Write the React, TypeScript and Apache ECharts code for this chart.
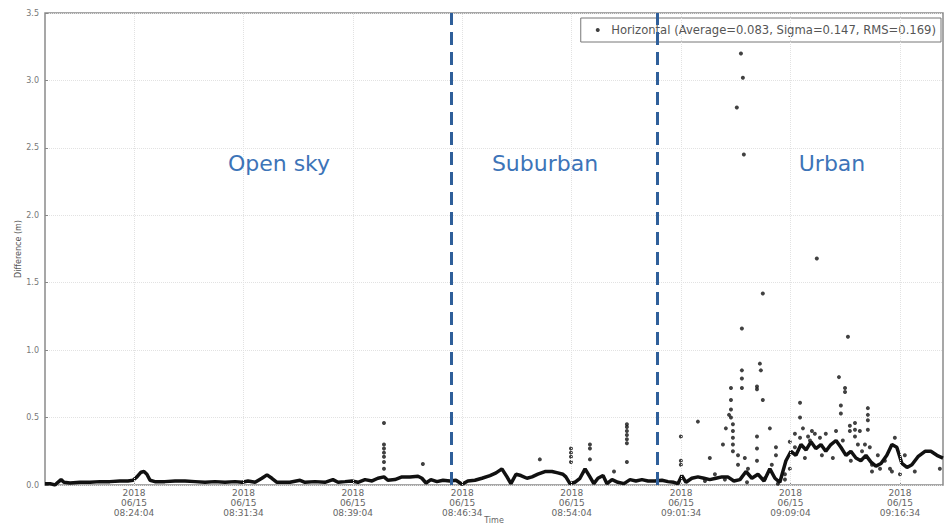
import React, { useEffect, useRef } from "react";
import * as echarts from "echarts";

// Elapsed seconds since 08:17:58 on 2018-06-15
const START_H = 8, START_M = 17, START_S = 58;
const TICK_SECONDS = [366, 816, 1266, 1716, 2166, 2616, 3066, 3516];
const X_MAX = 3693;
const Y_TICKS_MAX = 3.5;

// Continuous horizontal-difference trace
const baseSec = [0, 21, 41, 53, 66, 78, 103, 144, 185, 226, 267, 308, 341, 362, 378, 395, 407, 419, 432, 452, 493, 535, 576, 617, 658, 699, 740, 781, 810, 835, 864, 892, 913, 933, 954, 1007, 1049, 1069, 1110, 1151, 1184, 1205, 1234, 1262, 1287, 1316, 1345, 1369, 1394, 1410, 1439, 1468, 1501, 1534, 1550, 1567, 1587, 1612, 1637, 1665, 1690, 1715, 1739, 1768, 1797, 1830, 1855, 1879, 1900, 1916, 1937, 1957, 1982, 2003, 2027, 2056, 2085, 2109, 2130, 2142, 2159, 2179, 2200, 2221, 2241, 2257, 2274, 2295, 2311, 2332, 2356, 2381, 2406, 2430, 2455, 2480, 2508, 2537, 2562, 2586, 2603, 2619, 2636, 2660, 2685, 2710, 2734, 2759, 2784, 2808, 2833, 2858, 2883, 2907, 2932, 2957, 2981, 3002, 3022, 3047, 3068, 3088, 3109, 3130, 3150, 3170, 3191, 3211, 3232, 3253, 3273, 3294, 3314, 3335, 3355, 3376, 3397, 3417, 3438, 3462, 3483, 3503, 3524, 3545, 3565, 3590, 3619, 3643, 3668, 3693];
const baseVal = [0.01, 0.01, 0.0, 0.02, 0.04, 0.02, 0.015, 0.02, 0.02, 0.025, 0.025, 0.03, 0.03, 0.035, 0.06, 0.095, 0.1, 0.08, 0.035, 0.025, 0.025, 0.03, 0.03, 0.025, 0.02, 0.025, 0.02, 0.025, 0.02, 0.03, 0.02, 0.05, 0.075, 0.05, 0.02, 0.02, 0.035, 0.02, 0.025, 0.02, 0.04, 0.02, 0.025, 0.03, 0.02, 0.04, 0.03, 0.05, 0.06, 0.035, 0.04, 0.06, 0.06, 0.065, 0.05, 0.015, 0.04, 0.025, 0.035, 0.03, 0.035, 0.005, 0.03, 0.035, 0.05, 0.07, 0.09, 0.12, 0.06, 0.01, 0.08, 0.07, 0.05, 0.06, 0.08, 0.1, 0.1, 0.09, 0.08, 0.06, 0.01, 0.02, 0.05, 0.12, 0.06, 0.01, 0.05, 0.07, 0.01, 0.04, 0.02, 0.01, 0.04, 0.03, 0.04, 0.03, 0.03, 0.035, 0.025, 0.02, 0.01, 0.07, 0.02, 0.05, 0.06, 0.05, 0.04, 0.05, 0.06, 0.06, 0.03, 0.04, 0.1, 0.05, 0.08, 0.03, 0.12, 0.05, 0.02, 0.18, 0.25, 0.22, 0.3, 0.26, 0.32, 0.27, 0.3, 0.25, 0.3, 0.33, 0.28, 0.22, 0.25, 0.2, 0.18, 0.22, 0.17, 0.14, 0.16, 0.22, 0.3, 0.28, 0.16, 0.13, 0.15, 0.21, 0.25, 0.25, 0.22, 0.2];

// Scattered epochs away from the trace
const outSec = [1394, 1394, 1394, 1394, 1394, 1394, 1394, 1554, 2035, 2163, 2163, 2163, 2163, 2241, 2241, 2241, 2340, 2393, 2393, 2393, 2393, 2393, 2393, 2393, 2615, 2615, 2615, 2685, 2734, 2788, 2800, 2813, 2821, 2821, 2821, 2821, 2829, 2829, 2829, 2829, 2829, 2845, 2850, 2850, 2862, 2866, 2866, 2866, 2866, 2870, 2874, 2878, 2891, 2928, 2928, 2928, 2928, 2928, 2940, 2944, 2952, 2952, 2981, 3006, 3006, 3043, 3043, 3063, 3063, 3084, 3105, 3105, 3117, 3138, 3154, 3174, 3187, 3265, 3273, 3273, 3290, 3290, 3302, 3310, 3310, 3331, 3331, 3331, 3343, 3360, 3384, 3384, 3384, 3384, 3401, 3401, 3434, 3483, 3516, 3680, 3084, 3105, 3125, 3146, 3166, 3195, 3211, 3240, 3253, 3281, 3314, 3351, 3372, 3392, 3425, 3454, 3475, 3495, 3536, 3577, 2714, 2755, 2796, 2887, 2961, 2989, 3014];
const outVal = [0.46, 0.3, 0.27, 0.24, 0.21, 0.17, 0.12, 0.155, 0.19, 0.27, 0.24, 0.21, 0.17, 0.3, 0.27, 0.19, 0.1, 0.45, 0.43, 0.4, 0.37, 0.34, 0.31, 0.17, 0.36, 0.18, 0.15, 0.47, 0.2, 0.3, 0.42, 0.52, 0.72, 0.63, 0.56, 0.5, 0.45, 0.4, 0.35, 0.3, 0.25, 2.8, 0.22, 0.15, 3.2, 1.16, 0.85, 0.79, 0.72, 3.02, 2.45, 0.2, 0.12, 0.73, 0.71, 0.36, 0.27, 0.18, 0.9, 0.85, 0.63, 1.42, 0.42, 0.28, 0.22, 0.08, 0.04, 0.32, 0.12, 0.38, 0.5, 0.61, 0.42, 0.36, 0.4, 1.68, 0.35, 0.8, 0.59, 0.53, 0.72, 0.69, 1.1, 0.44, 0.4, 0.46, 0.41, 0.36, 0.3, 0.25, 0.57, 0.52, 0.48, 0.41, 0.15, 0.1, 0.12, 0.1, 0.08, 0.12, 0.28, 0.35, 0.2, 0.33, 0.38, 0.22, 0.38, 0.2, 0.4, 0.33, 0.18, 0.4, 0.3, 0.28, 0.22, 0.18, 0.12, 0.35, 0.22, 0.1, 0.03, 0.08, 0.04, 0.02, 0.05, 0.15, 0.01];

// Environment boundaries and labels
const boundarySec = [1670, 2517];
const regionNames = ["Open sky", "Suburban", "Urban"];
const legendName = "Horizontal (Average=0.083, Sigma=0.147, RMS=0.169)";

const pad = (n: number) => (n < 10 ? "0" + n : "" + n);
function timeLabel(sec: number) {
  const total = START_H * 3600 + START_M * 60 + START_S + Math.round(sec);
  const h = Math.floor(total / 3600);
  const m = Math.floor((total % 3600) / 60);
  const s = total % 60;
  return "2018\n06/15\n" + pad(h) + ":" + pad(m) + ":" + pad(s);
}

const FONT = "DejaVu Sans";
const regionPos = [[279, 163], [545, 163], [832, 163]];

export default function App() {
  const ref = useRef<HTMLDivElement>(null);
  useEffect(() => {
    if (!ref.current) return;
    const chart = echarts.init(ref.current, null, { renderer: "svg" });
    const baseData = baseSec.map((t, i) => [t, baseVal[i]]);
    const outData = outSec.map((t, i) => [t, outVal[i]]);
    chart.setOption({
      animation: false,
      backgroundColor: "#ffffff",
      textStyle: { fontFamily: FONT },
      grid: {
        left: 45,
        right: 4,
        top: 13,
        bottom: 43,
        outerBoundsMode: "none",
        containLabel: false,
        show: true,
        borderColor: "#8a8a8a",
        borderWidth: 1.5,
        backgroundColor: "transparent",
      },
      legend: {
        right: 6,
        top: 18,
        data: [{ name: legendName, icon: "circle" }],
        itemWidth: 17,
        itemHeight: 4,
        itemGap: 0,
        padding: [6, 5, 6, 15],
        borderColor: "#777",
        borderWidth: 1,
        backgroundColor: "#fff",
        borderRadius: 0,
        textStyle: { color: "#555", fontSize: 11.6, fontFamily: FONT },
      },
      xAxis: {
        type: "value",
        min: 0,
        max: X_MAX,
        name: "Time",
        nameLocation: "middle",
        nameGap: 31,
        nameMoveOverlap: false,
        nameTextStyle: { fontSize: 8, color: "#666" },
        axisLine: { show: false },
        splitLine: { show: false },
        axisTick: {
          show: true,
          customValues: TICK_SECONDS,
          inside: true,
          length: 3,
          lineStyle: { color: "#888" },
        },
        axisLabel: {
          customValues: TICK_SECONDS,
          formatter: (v: number) => timeLabel(v),
          fontSize: 9,
          lineHeight: 10,
          color: "#666",
          margin: 3,
        },
      },
      yAxis: {
        type: "value",
        min: 0,
        max: Y_TICKS_MAX,
        interval: 0.5,
        name: "Difference (m)",
        nameLocation: "middle",
        nameGap: 23,
        nameMoveOverlap: false,
        nameTextStyle: { fontSize: 8, color: "#555" },
        axisLine: { show: false },
        axisTick: { show: true, inside: true, length: 3, lineStyle: { color: "#888" } },
        axisLabel: {
          formatter: (v: number) => v.toFixed(1),
          fontSize: 8,
          color: "#777",
          margin: 6,
        },
        splitLine: { show: true, lineStyle: { color: "#e2e2e2", type: "dotted", width: 1 } },
      },
      series: [
        {
          name: "grid",
          type: "line",
          data: [],
          silent: true,
          markLine: {
            silent: true,
            symbol: "none",
            label: { show: false },
            lineStyle: { color: "#e2e2e2", type: "dotted", width: 1 },
            data: TICK_SECONDS.map((t) => ({ xAxis: t })),
          },
        },
        {
          name: "trace",
          type: "line",
          data: baseData,
          showSymbol: false,
          symbol: "none",
          lineStyle: { color: "#111", width: 3.5 },
          silent: true,
          z: 3,
        },
        {
          name: legendName,
          type: "scatter",
          data: outData,
          symbol: "circle",
          symbolSize: 4,
          itemStyle: { color: "#111" },
          silent: true,
          z: 4,
        },
        {
          name: "boundaries",
          type: "line",
          data: [],
          silent: true,
          markLine: {
            silent: true,
            symbol: "none",
            label: { show: false },
            lineStyle: { color: "#2f5f9a", type: [13, 7], width: 3 },
            data: boundarySec.map((t) => ({ xAxis: t })),
          },
          z: 5,
        },
      ],
      graphic: regionNames.map((name, i) => ({
        type: "text",
        x: regionPos[i][0],
        y: regionPos[i][1],
        style: {
          text: name,
          fontSize: 22,
          fontFamily: FONT,
          fill: "#3d74b8",
          align: "center",
          verticalAlign: "middle",
        },
        z: 10,
      })),
    });
    return () => chart.dispose();
  }, []);
  return (
    <div
      ref={ref}
      style={{ position: "fixed", left: 0, top: 0, width: 947, height: 528, background: "#fff" }}
    />
  );
}
